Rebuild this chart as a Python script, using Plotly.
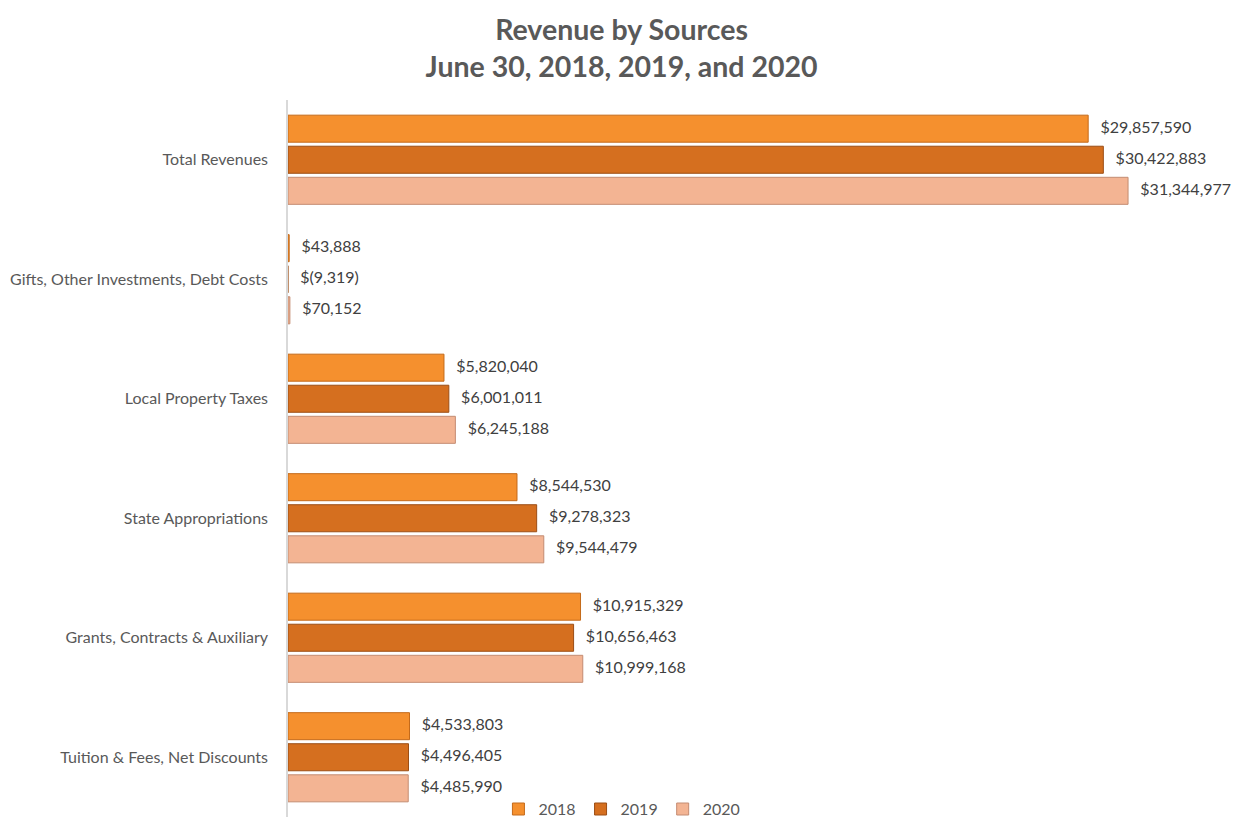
import plotly.graph_objects as go

categories = ["Total Revenues", "Gifts, Other Investments, Debt Costs", "Local Property Taxes",
              "State Appropriations", "Grants, Contracts & Auxiliary", "Tuition & Fees, Net Discounts"]
years = ["2018", "2019", "2020"]
values_2018 = [29857590, 43888, 5820040, 8544530, 10915329, 4533803]
values_2019 = [30422883, -9319, 6001011, 9278323, 10656463, 4496405]
values_2020 = [31344977, 70152, 6245188, 9544479, 10999168, 4485990]

series = [values_2018, values_2019, values_2020]
colors = ["#F5902E", "#D56F1F", "#F3B493"]
line_colors = ["#C46A1A", "#9C4E15", "#C48C72"]


def fmt(v):
    return "${:,}".format(v) if v >= 0 else "$({:,})".format(-v)


fig = go.Figure()
for yr, vals, c, lc in zip(years, series, colors, line_colors):
    fig.add_trace(go.Bar(
        y=categories, x=vals, name=yr, orientation="h",
        marker=dict(color=c, line=dict(color=lc, width=1)),
        hoverinfo="skip",
    ))
for yr, vals in zip(years, series):
    fig.add_trace(go.Scatter(
        y=categories, x=[max(v, 0) for v in vals], mode="text",
        text=["   " + fmt(v) for v in vals], textposition="middle right",
        textfont=dict(family="Lato", size=16, color="#404040"),
        orientation="h", showlegend=False, hoverinfo="skip", cliponaxis=False,
    ))

fig.update_layout(
    width=1242, height=830,
    paper_bgcolor="white", plot_bgcolor="white",
    barmode="group", bargap=0.22, bargroupgap=0.13,
    scattermode="group", scattergap=0.22,
    margin=dict(l=280, r=24, t=92, b=21),
    title=dict(text="Revenue by Sources<br>June 30, 2018, 2019, and 2020",
               x=0.494, xref="container", xanchor="center", y=0.9614, yref="container", yanchor="middle",
               font=dict(family="Lato", size=28.5, color="#595959", weight="bold")),
    legend=dict(orientation="h", x=0.356, xref="paper", xanchor="center",
                y=0.011, yref="paper", yanchor="middle",
                font=dict(family="Lato", size=16, color="#595959"),
                itemwidth=30, bgcolor="rgba(0,0,0,0)"),
    font=dict(family="Lato", color="#595959"),
)
fig.update_xaxes(range=[0, 35000000], visible=False, showgrid=False, zeroline=False)
fig.update_yaxes(autorange="reversed", showline=True, linecolor="#D9D9D9", linewidth=1.5,
                 showgrid=False, ticks="", ticklabelstandoff=15, automargin=False,
                 tickfont=dict(family="Lato", size=16, color="#595959"))

fig.write_html("out.html")
